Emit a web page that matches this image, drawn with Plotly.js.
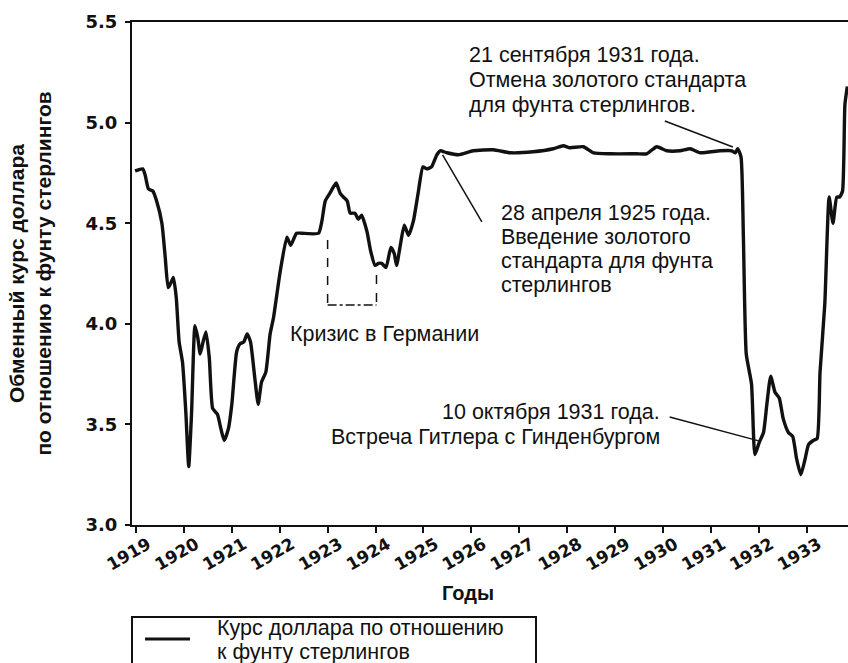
<!DOCTYPE html>
<html>
<head>
<meta charset="utf-8">
<script src="https://cdn.plot.ly/plotly-3.0.1.min.js"></script>
<style>html,body{margin:0;padding:0;background:#fff;}#chart{width:848px;height:663px;}</style>
</head>
<body>
<div id="chart"></div>
<script>
// Dates as decimal years, exchange rate in dollars per pound sterling
const years = [
 1918.98,1919.14,1919.19,1919.26,1919.35,1919.43,1919.54,1919.61,1919.67,1919.72,1919.78,1919.84,1919.90,1919.97,
 1920.04,1920.10,1920.16,1920.23,1920.29,1920.34,1920.40,1920.46,1920.53,1920.60,1920.70,1920.77,1920.84,1920.93,
 1921.00,1921.10,1921.17,1921.25,1921.32,1921.39,1921.48,1921.55,1921.62,1921.71,1921.80,1921.87,
 1922.01,1922.15,1922.23,1922.35,1922.46,1922.81,1922.88,1922.95,
 1923.05,1923.12,1923.18,1923.26,1923.33,1923.41,1923.47,1923.57,1923.64,1923.71,1923.82,1923.90,1923.99,
 1924.06,1924.13,1924.22,1924.32,1924.39,1924.44,1924.51,1924.60,1924.69,1924.79,1924.89,1924.99,
 1925.07,1925.17,1925.28,1925.35,1925.49,1925.73,1926.04,1926.46,1926.81,1927.29,1927.71,1927.92,
 1928.06,1928.34,1928.55,1928.90,1929.45,1929.66,1929.87,1930.08,1930.36,1930.57,1930.78,
 1931.19,1931.44,1931.51,1931.56,1931.63,1931.68,1931.74,1931.85,1931.92,
 1932.01,1932.10,1932.17,1932.25,1932.34,1932.43,1932.51,1932.62,1932.71,1932.79,1932.88,1932.97,
 1933.04,1933.14,1933.22,1933.28,1933.38,1933.47,1933.55,1933.63,1933.69,1933.75,1933.80,1933.85
];
const rates = [
 4.76,4.77,4.74,4.67,4.66,4.61,4.50,4.33,4.18,4.20,4.23,4.13,3.91,3.81,
 3.56,3.29,3.56,3.99,3.93,3.85,3.91,3.96,3.83,3.58,3.55,3.48,3.42,3.48,
 3.60,3.86,3.90,3.91,3.95,3.91,3.73,3.60,3.71,3.76,3.95,4.03,
 4.26,4.43,4.39,4.45,4.45,4.45,4.51,4.61,
 4.65,4.68,4.70,4.65,4.63,4.61,4.55,4.55,4.52,4.54,4.46,4.36,4.29,
 4.30,4.30,4.28,4.38,4.35,4.29,4.38,4.49,4.44,4.51,4.65,4.78,
 4.77,4.78,4.84,4.86,4.85,4.84,4.86,4.865,4.85,4.855,4.87,4.885,
 4.875,4.88,4.85,4.845,4.845,4.845,4.88,4.86,4.86,4.87,4.85,
 4.86,4.86,4.85,4.87,4.83,4.43,3.85,3.70,3.35,
 3.41,3.46,3.60,3.74,3.66,3.63,3.53,3.46,3.44,3.33,3.25,3.33,
 3.40,3.42,3.43,3.76,4.10,4.63,4.50,4.63,4.63,4.66,5.09,5.18
];
const tickYears = [1919,1920,1921,1922,1923,1924,1925,1926,1927,1928,1929,1930,1931,1932,1933];
const tickLabels = tickYears.map(String);
const seriesName = 'Курс доллара по отношению<br>к фунту стерлингов';

const W = 848, H = 663, L = 132, R = 0, T = 22, B = 138;
const pw = W - L - R, ph = H - T - B;
const px = x => (x - L) / pw;
const py = y => (H - B - y) / ph;

const txt = '#111';
const annFont = {family: 'Liberation Sans, Arial, sans-serif', size: 21.5, color: txt};

function line(text, x, y, anchor) {
  return {text: text, xref: 'paper', yref: 'paper', x: px(x), y: py(y),
    xanchor: anchor || 'left', yanchor: 'middle', showarrow: false, font: annFont};
}

const annotations = [
  line('21 сентября 1931 года.', 467, 55),
  line('Отмена золотого стандарта', 467, 80),
  line('для фунта стерлингов.', 467, 105),
  line('28 апреля 1925 года.', 499, 213),
  line('Введение золотого', 499, 237),
  line('стандарта для фунта', 499, 261),
  line('стерлингов', 499, 285),
  line('Кризис в Германии', 288, 334),
  line('10 октября 1931 года.', 662, 412, 'right'),
  line('Встреча Гитлера с Гинденбургом', 662, 437, 'right'),
  {text: 'Годы', xref: 'paper', yref: 'paper', x: px(468), y: py(593), xanchor: 'center', yanchor: 'middle',
   showarrow: false, font: {family: 'Liberation Sans, Arial, sans-serif', size: 20, weight: 'bold', color: txt}},
  line('Курс доллара по отношению', 215, 628),
  line('к фунту стерлингов', 215, 652)
];

const shapes = [
  // pointer lines
  {type: 'line', xref: 'x', yref: 'y', x0: 1930.04, y0: 5.008, x1: 1931.46, y1: 4.879, line: {color: txt, width: 1.5}},
  {type: 'line', xref: 'x', yref: 'y', x0: 1925.40, y0: 4.839, x1: 1926.22, y1: 4.506, line: {color: txt, width: 1.5}},
  {type: 'line', xref: 'x', yref: 'y', x0: 1930.14, y0: 3.537, x1: 1932.00, y1: 3.418, line: {color: txt, width: 1.5}},
  // crisis bracket
  {type: 'line', xref: 'x', yref: 'y', x0: 1923.0, y0: 4.417, x1: 1923.0, y1: 4.093, line: {color: txt, width: 1.5, dash: 'dash'}},
  {type: 'line', xref: 'x', yref: 'y', x0: 1923.0, y0: 4.093, x1: 1924.02, y1: 4.093, line: {color: txt, width: 1.5, dash: 'dashdot'}},
  {type: 'line', xref: 'x', yref: 'y', x0: 1924.02, y0: 4.243, x1: 1924.02, y1: 4.093, line: {color: txt, width: 1.5, dash: 'dash'}},
  // legend box
  {type: 'rect', xref: 'paper', yref: 'paper', x0: px(132), x1: px(536), y0: py(617), y1: py(690), line: {color: txt, width: 2}},
  {type: 'line', xref: 'paper', yref: 'paper', x0: px(145), x1: px(190), y0: py(639), y1: py(639), line: {color: txt, width: 3}}
];

const data = [{
  x: years, y: rates, type: 'scatter', mode: 'lines', name: seriesName,
  line: {color: txt, width: 3.4, shape: 'spline', smoothing: 0.5},
  showlegend: false, hoverinfo: 'x+y'
}];

const tickFont = {family: 'DejaVu Sans, sans-serif', size: 18, weight: 'bold', color: txt};

const layout = {
  width: W, height: H,
  margin: {l: L, r: R, t: T, b: B, pad: 0},
  paper_bgcolor: '#fff', plot_bgcolor: '#fff',
  showlegend: false,
  xaxis: {
    range: [1918.916, 1933.864], tickvals: tickYears, ticktext: tickLabels,
    tickangle: -30, tickfont: {family: 'DejaVu Sans, sans-serif', size: 17, weight: 'bold', color: txt},
    ticks: 'outside', ticklen: 6, tickwidth: 2, tickcolor: txt,
    ticklabelstandoff: -5, ticklabelshift: 12,
    showline: true, linecolor: txt, linewidth: 2, mirror: true,
    showgrid: false, zeroline: false, fixedrange: true
  },
  yaxis: {
    range: [3.0, 5.5], tickvals: [3.0, 3.5, 4.0, 4.5, 5.0, 5.5], tickformat: '.1f',
    tickfont: tickFont, ticks: 'outside', ticklen: 5, tickwidth: 2, tickcolor: txt,
    ticklabelstandoff: 4,
    showline: true, linecolor: txt, linewidth: 2,
    showgrid: false, zeroline: false, fixedrange: true,
    title: {text: 'Обменный курс доллара<br>по отношению к фунту стерлингов', standoff: 28,
      font: {family: 'Liberation Sans, Arial, sans-serif', size: 21, weight: 'bold', color: txt}}
  },
  annotations: annotations,
  shapes: shapes
};

Plotly.newPlot('chart', data, layout, {staticPlot: true, displayModeBar: false});
</script>
</body>
</html>
